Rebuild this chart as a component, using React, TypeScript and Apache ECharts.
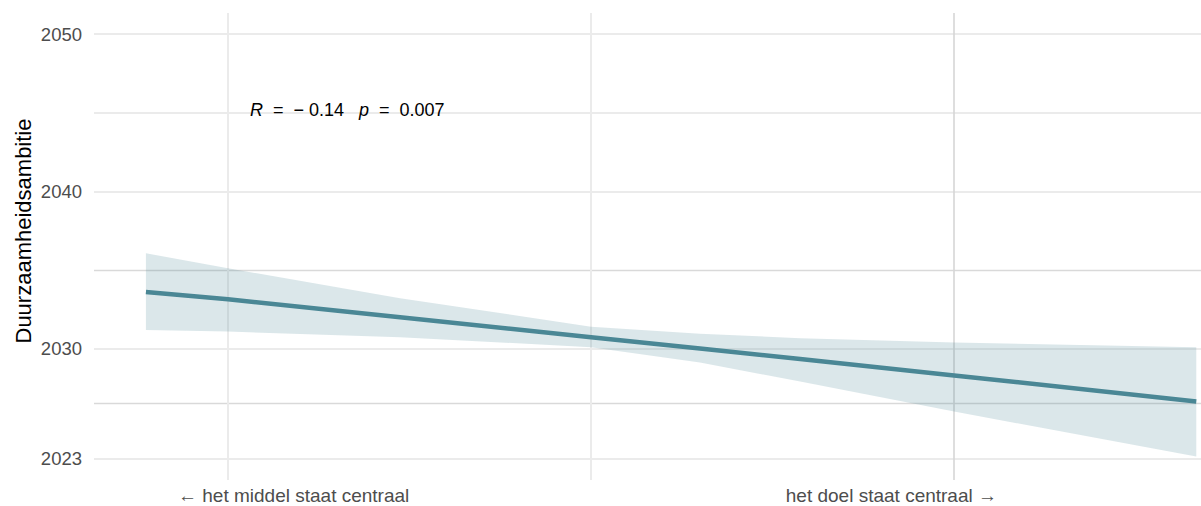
import React, { useEffect, useRef } from "react";
import * as echarts from "echarts";

// x position of the fitted curve (standardised scale, gridlines at -1, 0, 1)
const xs = [-1.226, -1.0, -0.526, 0, 0.3, 0.576, 1.0, 1.667];
const fitValues = [2033.61, 2033.14, 2032.0, 2030.73, 2030.01, 2029.34, 2028.3, 2026.64];
const upperValues = [2036.07, 2035.11, 2033.21, 2031.4, 2030.95, 2030.67, 2030.39, 2030.1];
const lowerValues = [2031.19, 2031.09, 2030.73, 2030.1, 2029.12, 2027.91, 2026.0, 2023.14];

const yTicks = [2023, 2030, 2040, 2050];
const yMinorLines = [2026.5, 2035];
const yLightLines = [2023, 2030, 2040, 2045, 2050];
const xGridLight = [-1, 0];
const xGridDark = [1];
const xLabelLeft = "← het middel staat centraal";
const xLabelRight = "het doel staat centraal →";
const yTitle = "Duurzaamheidsambitie";
const statR = "− 0.14";
const statP = "0.007";

const FONT = "'Liberation Sans', Arial, Helvetica, sans-serif";

export default function App() {
  const ref = useRef<HTMLDivElement>(null);
  useEffect(() => {
    document.body.style.margin = "0";
    if (!ref.current) return;
    const chart = echarts.init(ref.current, null, { renderer: "svg" });

    const gridMarks = [
      ...yLightLines.map((v) => ({ yAxis: v, lineStyle: { color: "#ebebeb", width: 2, type: "solid" } })),
      ...yMinorLines.map((v) => ({ yAxis: v, lineStyle: { color: "#d9d9d9", width: 1.3, type: "solid" } })),
      ...xGridLight.map((v) => ({ xAxis: v, lineStyle: { color: "#ebebeb", width: 2, type: "solid" } })),
      ...xGridDark.map((v) => ({ xAxis: v, lineStyle: { color: "#d6d6d6", width: 1.6, type: "solid" } })),
    ];

    const ribbonRender = (params: any, api: any) => {
      if (params.dataIndex !== 0) return null;
      const pts: number[][] = [];
      for (let i = 0; i < xs.length; i++) pts.push(api.coord([xs[i], upperValues[i]]));
      for (let i = xs.length - 1; i >= 0; i--) pts.push(api.coord([xs[i], lowerValues[i]]));
      return {
        type: "polygon",
        shape: { points: pts },
        style: { fill: "rgba(75,135,149,0.2)", stroke: "none" },
      };
    };

    chart.setOption({
      animation: false,
      backgroundColor: "#ffffff",
      textStyle: { fontFamily: FONT },
      grid: { left: 94, right: 0, top: 13, bottom: 26, containLabel: false },
      xAxis: {
        type: "value",
        min: -1.369,
        max: 1.68,
        axisLine: { show: false },
        axisTick: { show: false },
        axisLabel: { show: false },
        splitLine: { show: false },
      },
      yAxis: {
        type: "value",
        min: 2021.65,
        max: 2051.35,
        axisLine: { show: false },
        axisTick: { show: false },
        splitLine: { show: false },
        axisLabel: {
          customValues: yTicks,
          formatter: (v: number) => String(v),
          margin: 12,
          fontSize: 18.5,
          color: "#4d4d4d",
          fontFamily: FONT,
        },
      },
      series: [
        {
          type: "line",
          name: "grid",
          data: [],
          silent: true,
          z: 0,
          markLine: {
            silent: true,
            symbol: ["none", "none"],
            label: { show: false },
            z: 0,
            data: gridMarks,
          },
        },
        {
          type: "custom",
          name: "ci",
          data: xs.map((x, i) => [x, upperValues[i], lowerValues[i]]),
          encode: { x: 0, y: [1, 2] },
          renderItem: ribbonRender,
          silent: true,
          z: 2,
        },
        {
          type: "line",
          name: "fit",
          data: xs.map((x, i) => [x, fitValues[i]]),
          symbol: "none",
          lineStyle: { color: "#4a8795", width: 4.5 },
          silent: true,
          z: 3,
        },
      ],
      graphic: [
        {
          type: "text",
          left: 250,
          top: 101,
          z: 100,
          style: {
            text: `{i|R}  =  ${statR}   {i|p}  =  ${statP}`,
            fontSize: 18,
            fill: "#000000",
            fontFamily: FONT,
            rich: {
              i: { fontStyle: "italic", fontSize: 18, fontFamily: FONT, fill: "#000000" },
            },
          },
        },
        {
          type: "text",
          x: 23,
          y: 231,
          rotation: Math.PI / 2,
          z: 100,
          style: {
            text: yTitle,
            fontSize: 22,
            fill: "#000000",
            fontFamily: FONT,
            align: "center",
            verticalAlign: "middle",
          },
        },
        {
          type: "text",
          left: 178,
          top: 486,
          z: 100,
          style: { text: xLabelLeft, fontSize: 19, fill: "#4d4d4d", fontFamily: FONT },
        },
        {
          type: "text",
          right: 1201 - 997,
          top: 486,
          z: 100,
          style: { text: xLabelRight, fontSize: 19, fill: "#4d4d4d", fontFamily: FONT },
        },
      ],
    });
    return () => chart.dispose();
  }, []);
  return <div ref={ref} style={{ width: 1201, height: 506 }} />;
}
